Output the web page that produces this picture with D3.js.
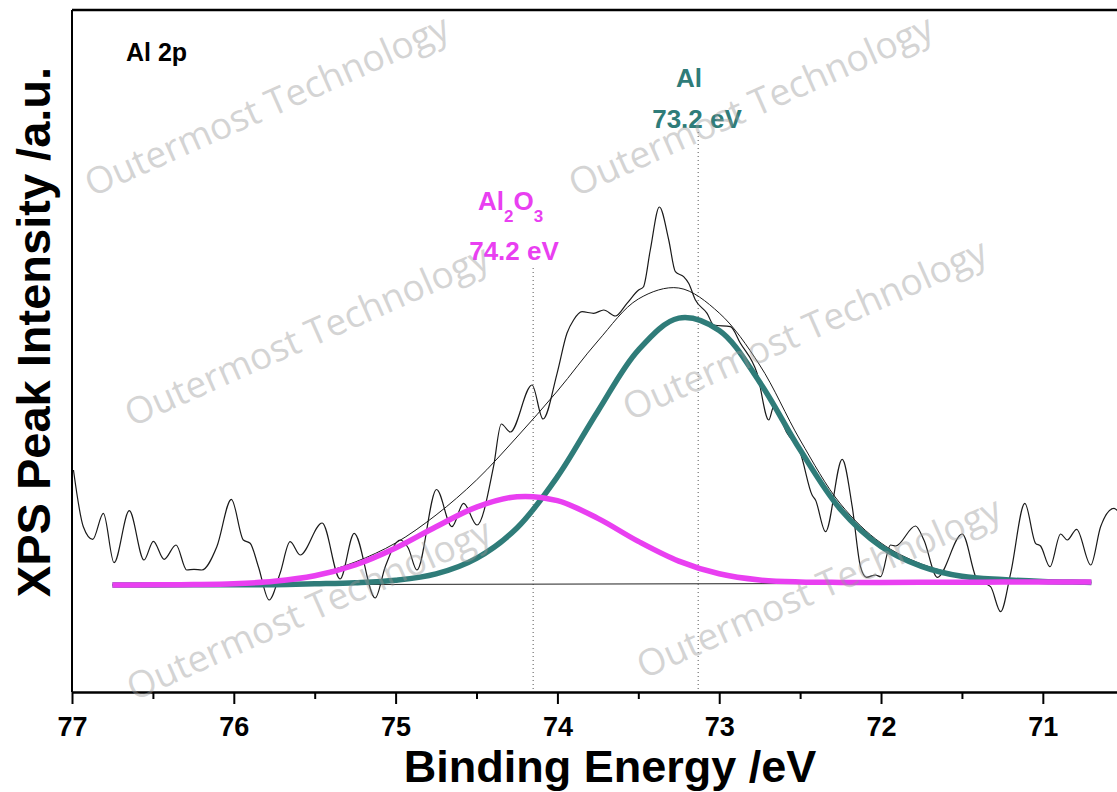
<!DOCTYPE html>
<html>
<head>
<meta charset="utf-8">
<script src="https://cdn.jsdelivr.net/npm/d3@7"></script>
<style>
body { margin: 0; background: #fff; }
svg { display: block; }
</style>
</head>
<body>
<script>
/*
*    Al 2p XPS spectrum with peak fit
*/

// raw spectrum: binding energy (eV) and intensity (a.u.)
var rawEnergy = [76.991, 76.930, 76.872, 76.806, 76.740, 76.646, 76.555, 76.497, 76.431, 76.357,
    76.291, 76.246, 76.198, 76.105, 76.015, 75.941, 75.899, 75.848, 75.782, 75.714,
    75.652, 75.590, 75.454, 75.343, 75.256, 75.126, 75.064, 74.972, 74.922, 74.868,
    74.747, 74.652, 74.580, 74.497, 74.395, 74.347, 74.291, 74.157, 74.089, 74.002,
    73.941, 73.900, 73.848, 73.776, 73.714, 73.642, 73.570, 73.498, 73.469, 73.426,
    73.370, 73.312, 73.271, 73.220, 73.189, 73.147, 73.075, 73.034, 72.931, 72.869,
    72.766, 72.694, 72.663, 72.580, 72.498, 72.426, 72.405, 72.343, 72.240, 72.178,
    72.127, 72.090, 72.034, 72.003, 71.941, 71.910, 71.787, 71.735, 71.652, 71.498,
    71.405, 71.323, 71.261, 71.199, 71.111, 71.045, 71.014, 70.956, 70.890, 70.849,
    70.791, 70.704, 70.643, 70.560, 70.537];
var rawCounts = [222, 165.3, 152.7, 178.7, 129.3, 181.3, 132, 150.7, 132.7, 147,
    122, 122.7, 122, 145.3, 192.7, 152, 148.7, 125.3, 92, 118.7,
    150.3, 137, 169, 113, 158.7, 94, 125.3, 152, 144, 122,
    202.5, 165.3, 188.7, 167, 225.3, 268, 260, 307, 273, 318.7,
    358.7, 372, 380.3, 378.7, 382, 376, 388.7, 402, 405, 442,
    485, 452, 420.3, 415.3, 408.7, 392, 378.7, 367, 365.3, 348.7,
    318.7, 272, 285.3, 258.7, 238.7, 197, 192, 160.3, 232.7, 185.3,
    125.3, 114.7, 117, 115.3, 147, 146, 166, 152, 114.7, 158,
    112, 105.3, 80.3, 118.7, 188.7, 148.7, 146, 125.3, 158, 152,
    162.7, 127, 165.3, 183.7, 181];

// fitted components on one energy grid
var fitEnergy = [76.75, 76.5, 76.25, 76.0, 75.75, 75.5, 75.25, 75.0, 74.75, 74.5,
    74.25, 74.0, 73.75, 73.5, 73.25, 73.0, 72.75, 72.5, 72.25, 72.0,
    71.75, 71.5, 71.25, 71.0, 70.75, 70.7];
var fitAl2O3 = [107.0, 107.2, 107.5, 108.3, 110.7, 116.2, 127.0, 144.0, 165.3, 184.9,
    195.3, 191.3, 173.6, 150.6, 130.9, 118.2, 112.0, 110.0, 109.6, 109.6,
    109.7, 109.8, 109.9, 110.0, 110.0, 110.0];
var fitAl = [107.0, 107.1, 107.2, 107.2, 107.3, 108.2, 109.3, 111.8, 118.2, 133.7,
    164.0, 215.3, 280.8, 341.9, 373.9, 361.5, 309.9, 242.2, 182.6, 145.6,
    125.7, 115.7, 112.4, 110.6, 109.8, 109.6];
var fitEnvelope = [107.0, 107.3, 107.7, 108.6, 111.2, 117.5, 130, 149, 177, 212,
    255, 301, 351, 393, 404, 379, 327, 252, 188, 149,
    128, 117, 113, 111, 110.2, 110];

var baselineEnergy = [76.75, 70.7];
var baselineCounts = [107, 109];

var peakEnergy = [74.15, 73.13];
var peakNames = ["Al2O3", "Al"];
var peakLabels = ["74.2 eV", "73.2 eV"];

var majorTicks = [77, 76, 75, 74, 73, 72, 71];
var minorTicks = [76.5, 75.5, 74.5, 73.5, 72.5, 71.5, 70.5];

var width = 1117;
var height = 792;
var plot = {left: 72, right: 1148, top: 10, bottom: 692};

var teal = "#2f7c79";
var pink = "#e93ff1";
var font = "'Liberation Sans', Arial, Helvetica, sans-serif";

var x = d3.scaleLinear()
    .domain([77, 70.35])
    .range([plot.left, plot.right]);

var y = d3.scaleLinear()
    .domain([0, 682])
    .range([plot.bottom, plot.top]);

var svg = d3.select("body")
    .append("svg")
        .attr("width", width)
        .attr("height", height);

var pairs = (xs, ys) => d3.zip(xs, ys);

var smooth = d3.line()
    .x((d) => x(d[0]))
    .y((d) => y(d[1]))
    .curve(d3.curveCatmullRom.alpha(0.5));

var raw = d3.line()
    .x((d) => x(d[0]))
    .y((d) => y(d[1]))
    .curve(d3.curveMonotoneX);

// dotted peak markers
var markTop = [268, 132];
svg.selectAll(".peak-line")
    .data(peakEnergy)
    .enter()
    .append("line")
        .attr("class", "peak-line")
        .attr("x1", (d) => x(d))
        .attr("x2", (d) => x(d))
        .attr("y1", (d, i) => markTop[i])
        .attr("y2", plot.bottom)
        .attr("stroke", "#555")
        .attr("stroke-width", 1)
        .attr("stroke-dasharray", "1,3");

// baseline, raw data, envelope
svg.append("path")
    .attr("d", smooth(pairs(baselineEnergy, baselineCounts)))
    .attr("fill", "none")
    .attr("stroke", "#222")
    .attr("stroke-width", 1);

svg.append("path")
    .attr("d", raw(pairs(rawEnergy, rawCounts)))
    .attr("fill", "none")
    .attr("stroke", "#1a1a1a")
    .attr("stroke-width", 1.2);

svg.append("path")
    .attr("d", smooth(pairs(fitEnergy, fitEnvelope)))
    .attr("fill", "none")
    .attr("stroke", "#1a1a1a")
    .attr("stroke-width", 1);

// components
svg.append("path")
    .attr("d", smooth(pairs(fitEnergy, fitAl)))
    .attr("fill", "none")
    .attr("stroke", teal)
    .attr("stroke-width", 5.5);

svg.append("path")
    .attr("d", smooth(pairs(fitEnergy, fitAl2O3)))
    .attr("fill", "none")
    .attr("stroke", pink)
    .attr("stroke-width", 5.5);

// frame
svg.append("line")
    .attr("x1", plot.left).attr("x2", plot.right)
    .attr("y1", plot.top).attr("y2", plot.top)
    .attr("stroke", "#000")
    .attr("stroke-width", 2.5);

svg.append("line")
    .attr("x1", plot.left).attr("x2", plot.left)
    .attr("y1", plot.top).attr("y2", plot.bottom)
    .attr("stroke", "#000")
    .attr("stroke-width", 2);

var bottomAxis = d3.axisBottom(x)
    .tickValues(majorTicks)
    .tickSize(12)
    .tickSizeOuter(0)
    .tickPadding(13)
    .tickFormat(d3.format("d"));

var xAxis = svg.append("g")
    .attr("class", "bottom axis")
    .attr("transform", "translate(0, " + plot.bottom + ")")
    .call(bottomAxis);

xAxis.select(".domain")
    .attr("stroke-width", 2.5);
xAxis.selectAll(".tick line")
    .attr("stroke-width", 2);
xAxis.selectAll("text")
    .attr("font-family", font)
    .attr("font-size", "27px")
    .attr("font-weight", "bold")
    .attr("fill", "#000");

var minorAxis = d3.axisBottom(x)
    .tickValues(minorTicks)
    .tickSize(7)
    .tickSizeOuter(0)
    .tickFormat("");

svg.append("g")
    .attr("class", "minor axis")
    .attr("transform", "translate(0, " + plot.bottom + ")")
    .call(minorAxis)
    .call((g) => g.select(".domain").remove())
    .selectAll(".tick line")
        .attr("stroke-width", 2);

// axis titles
svg.append("text")
    .attr("x", 610)
    .attr("y", 782)
    .attr("text-anchor", "middle")
    .attr("font-family", font)
    .attr("font-size", "45px")
    .attr("font-weight", "bold")
    .style("fill", "black")
    .text("Binding Energy /eV");

svg.append("text")
    .attr("x", -332)
    .attr("y", 50)
    .attr("text-anchor", "middle")
    .attr("transform", "rotate(-90)")
    .attr("font-family", font)
    .attr("font-size", "47px")
    .attr("font-weight", "bold")
    .style("fill", "black")
    .text("XPS Peak Intensity /a.u.");

svg.append("text")
    .attr("x", 126)
    .attr("y", 61)
    .attr("font-family", font)
    .attr("font-size", "25px")
    .attr("font-weight", "bold")
    .style("fill", "black")
    .text("Al 2p");

// peak labels
var alName = svg.append("text")
    .attr("x", 689)
    .attr("y", 87)
    .attr("text-anchor", "middle")
    .attr("font-family", font)
    .attr("font-size", "26px")
    .attr("font-weight", "bold")
    .style("fill", teal)
    .text(peakNames[1]);

svg.append("text")
    .attr("x", 697)
    .attr("y", 128)
    .attr("text-anchor", "middle")
    .attr("font-family", font)
    .attr("font-size", "26px")
    .attr("font-weight", "bold")
    .style("fill", teal)
    .text(peakLabels[1]);

var oxName = svg.append("text")
    .attr("x", 478)
    .attr("y", 210)
    .attr("font-family", font)
    .attr("font-size", "26px")
    .attr("font-weight", "bold")
    .style("fill", pink);
oxName.append("tspan").text("Al");
oxName.append("tspan").attr("dy", 12).attr("font-size", "17px").text("2");
oxName.append("tspan").attr("dy", -12).text("O");
oxName.append("tspan").attr("dy", 12).attr("font-size", "17px").text("3");

svg.append("text")
    .attr("x", 514)
    .attr("y", 260)
    .attr("text-anchor", "middle")
    .attr("font-family", font)
    .attr("font-size", "26px")
    .attr("font-weight", "bold")
    .style("fill", pink)
    .text(peakLabels[0]);

// watermarks
var marks = [[268, 108], [752, 108], [308, 338], [806, 332], [310, 612], [820, 590]];
svg.selectAll(".watermark")
    .data(marks)
    .enter()
    .append("text")
        .attr("class", "watermark")
        .attr("transform", (d) => "translate(" + d[0] + "," + d[1] + ") rotate(-24)")
        .attr("text-anchor", "middle")
        .attr("dominant-baseline", "middle")
        .attr("font-family", "'Open Sans', sans-serif")
        .attr("font-size", "37px")
        .style("fill", "#9a9a9a")
        .style("opacity", 0.42)
        .text("Outermost Technology");
</script>
</body>
</html>
